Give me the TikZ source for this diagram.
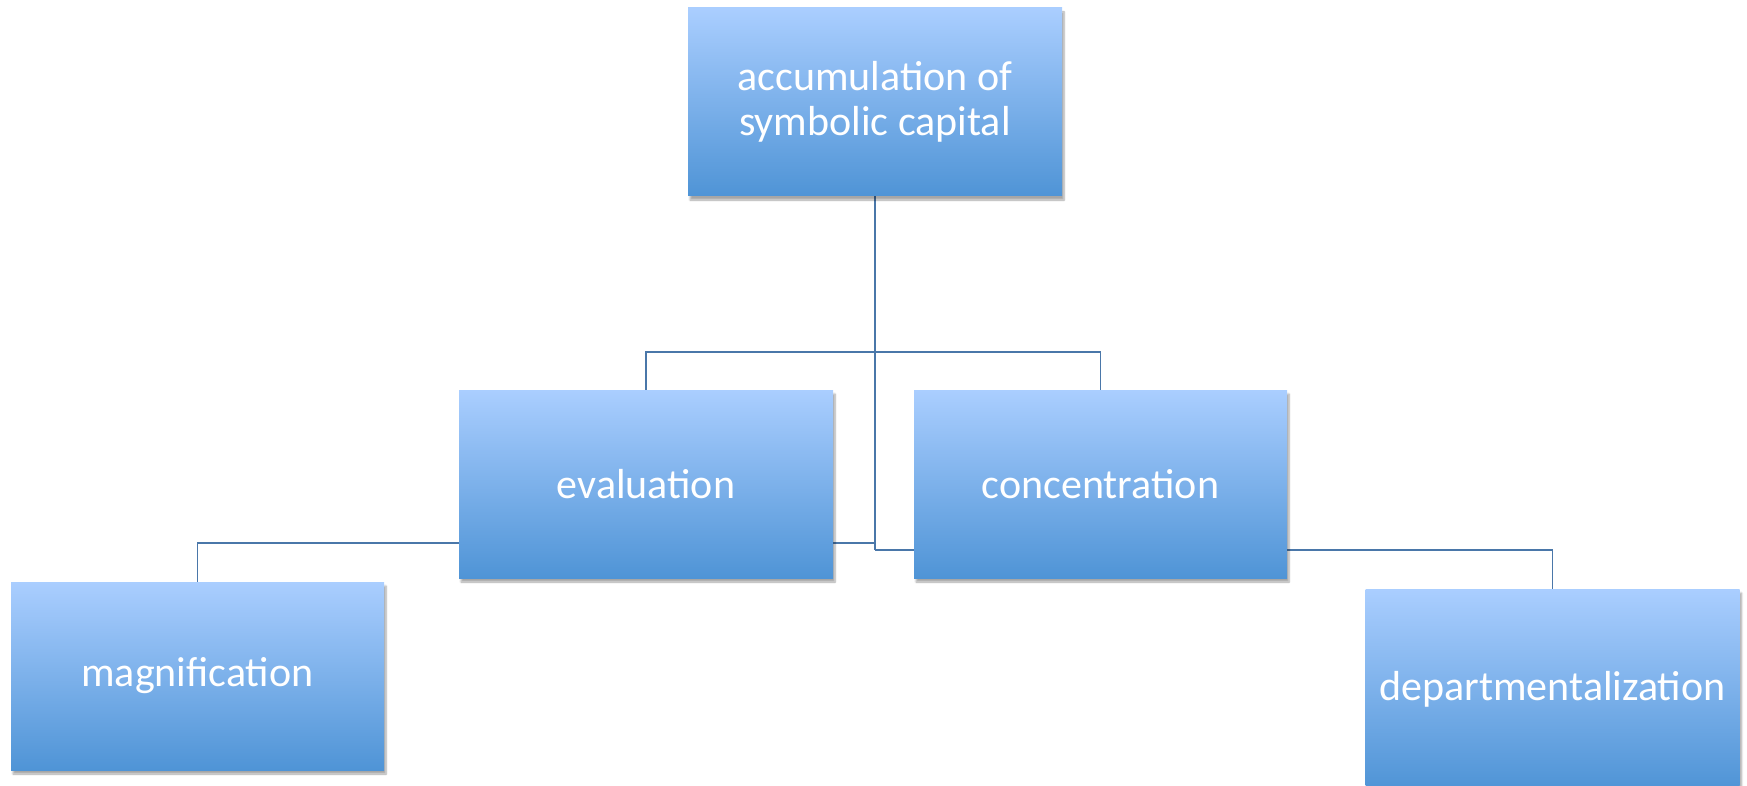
\documentclass[tikz,border=0pt]{standalone}
\usepackage{fontspec}
\setmainfont{Carlito}
\usetikzlibrary{shadows.blur,backgrounds}
\definecolor{boxtop}{HTML}{AACEFF}
\definecolor{boxbot}{HTML}{4F94D6}
\definecolor{linec}{HTML}{4A77A9}
\tikzset{
  orgbox/.style={rectangle, minimum width=374pt, minimum height=188pt, inner sep=0pt,
    top color=boxtop, bottom color=boxbot, text=white, align=center,
    font=\fontsize{42}{45}\selectfont,
    blur shadow={shadow xshift=2pt, shadow yshift=-4pt, shadow blur steps=6, shadow opacity=35}},
  conn/.style={draw=linec, line width=1.6pt}
}
\begin{document}
\begin{tikzpicture}[x=1pt,y=-1pt]
\useasboundingbox (0,0) rectangle (1747,786);
\clip (0,0) rectangle (1747,786);
\node[orgbox] (top) at (875,102) {accumulation of\\symbolic capital};
\node[orgbox] (eval) at (646,484) {evaluation};
\node[orgbox, minimum width=373pt] (conc) at (1100.5,484) {concentration};
\node[orgbox, minimum width=373pt] (mag) at (197.5,676) {magnification};
\node[orgbox, minimum height=200pt] (dept) at (1552.5,689) {departmentalization};
\coordinate (trunk) at (875,550);
\coordinate (magj) at (875,543);
\begin{pgfonlayer}{background}
\draw[conn] (top.south) -- (trunk);
\draw[conn] (eval.north) -- ++(0,-38) -| (conc.north);
\draw[conn] (mag.north) |- (magj);
\draw[conn] (trunk) -| (dept.north);
\end{pgfonlayer}
\end{tikzpicture}
\end{document}
